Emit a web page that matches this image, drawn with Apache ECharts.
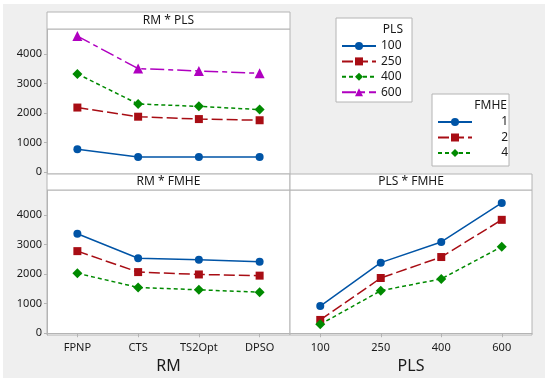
<!DOCTYPE html>
<html>
<head>
<meta charset="utf-8">
<script src="https://cdn.jsdelivr.net/npm/echarts@6/dist/echarts.min.js"></script>
<style>html,body{margin:0;padding:0;background:#fff}#c{width:550px;height:381px}</style>
</head>
<body>
<div id="c"></div>
<script>
// ---- data ----
const rmCats = ['FPNP', 'CTS', 'TS2Opt', 'DPSO'];
const plsCats = ['100', '250', '400', '600'];
const yTicks = [0, 1000, 2000, 3000, 4000];

// RM * PLS
const rmPls100 = [780, 515, 515, 515];
const rmPls250 = [2190, 1880, 1800, 1760];
const rmPls400 = [3330, 2310, 2230, 2120];
const rmPls600 = [4610, 3510, 3430, 3350];

// RM * FMHE
const rmFmhe1 = [3370, 2540, 2490, 2420];
const rmFmhe2 = [2780, 2070, 1990, 1950];
const rmFmhe4 = [2030, 1550, 1470, 1390];

// PLS * FMHE
const plsFmhe1 = [920, 2390, 3090, 4410];
const plsFmhe2 = [450, 1870, 2580, 3840];
const plsFmhe4 = [300, 1440, 1840, 2930];

// ---- styles ----
const FONT = 'Noto Sans';
const BORDER = '#b4b4b4';
const C_BLUE = '#0054a6', C_RED = '#a80d14', C_GREEN = '#008a00', C_PURPLE = '#b000c0';
const sty = {
  blue:   {color: C_BLUE,   symbol: 'circle',   symbolSize: 8,  type: 'solid'},
  red:    {color: C_RED,    symbol: 'rect',     symbolSize: 8,  type: [11, 4]},
  green:  {color: C_GREEN,  symbol: 'diamond',  symbolSize: 10, type: [4, 3]},
  purple: {color: C_PURPLE, symbol: 'triangle', symbolSize: 10, type: [14, 4, 5, 4]}
};
function mk(name, data, s, gi) {
  return {
    name: name, type: 'line', data: data, xAxisIndex: gi, yAxisIndex: gi,
    symbol: s.symbol, symbolSize: s.symbolSize,
    itemStyle: {color: s.color},
    lineStyle: {color: s.color, width: 1.5, type: s.type},
    emphasis: {disabled: true}, animation: false
  };
}
const gridBox = {show: true, backgroundColor: '#fff', borderColor: BORDER, borderWidth: 1};
const labelStyle = {fontFamily: FONT, fontSize: 11, color: '#1a1a1a'};
function yAx(gi, showLabels) {
  return {
    type: 'value', gridIndex: gi, min: -60, max: 4850,
    splitLine: {show: false},
    axisLine: {show: showLabels, lineStyle: {color: BORDER}},
    axisTick: {show: showLabels, length: 3, customValues: yTicks, lineStyle: {color: BORDER}},
    axisLabel: Object.assign({show: showLabels, margin: 5, customValues: yTicks,
      formatter: function (v) { return String(v); }}, labelStyle)
  };
}
function xAx(gi, cats, showLabels, name) {
  return {
    type: 'category', gridIndex: gi, data: cats, boundaryGap: true,
    axisLine: {show: showLabels, lineStyle: {color: BORDER}},
    axisTick: {show: showLabels, alignWithLabel: true, length: 4, lineStyle: {color: BORDER}},
    axisLabel: Object.assign({show: showLabels, margin: 7}, labelStyle),
    name: name || '', nameLocation: 'middle', nameGap: 23,
    nameTextStyle: {fontFamily: FONT, fontSize: 16, color: '#1a1a1a'}
  };
}
function strip(x, y, w, h, text) {
  return [
    {type: 'rect', shape: {x: x, y: y, width: w, height: h}, style: {fill: '#fff', stroke: BORDER, lineWidth: 1}, z: 1},
    {type: 'text', x: x + w / 2, y: y + h / 2, style: {text: text, fill: '#1a1a1a', font: '12px "' + FONT + '"', align: 'center', verticalAlign: 'middle'}, z: 2}
  ];
}
const graphics = [].concat(
  [{type: 'rect', shape: {x: 3, y: 4, width: 542, height: 374}, style: {fill: '#efefef'}, z: -10}],
  strip(47, 12, 243, 17, 'RM * PLS'),
  strip(47, 174, 243, 16, 'RM * FMHE'),
  strip(290, 174, 242, 16, 'PLS * FMHE'),
  [
    {type: 'rect', shape: {x: 336, y: 18, width: 76, height: 84}, style: {fill: '#fff', stroke: BORDER, lineWidth: 1}, z: 1},
    {type: 'text', x: 403, y: 30, style: {text: 'PLS', fill: '#1a1a1a', font: '12px "' + FONT + '"', align: 'right', verticalAlign: 'middle'}, z: 2},
    {type: 'rect', shape: {x: 432, y: 94, width: 77, height: 72}, style: {fill: '#fff', stroke: BORDER, lineWidth: 1}, z: 1},
    {type: 'text', x: 507, y: 106, style: {text: 'FMHE', fill: '#1a1a1a', font: '12px "' + FONT + '"', align: 'right', verticalAlign: 'middle'}, z: 2}
  ]
);
const legendText = {fontFamily: FONT, fontSize: 12, color: '#1a1a1a', lineHeight: 12};
const option = {
  backgroundColor: '#fff',
  animation: false,
  grid: [
    Object.assign({left: 47, top: 29, width: 243, height: 145}, gridBox),
    Object.assign({left: 47, top: 190, width: 243, height: 145}, gridBox),
    Object.assign({left: 290, top: 190, width: 242, height: 145}, gridBox)
  ],
  xAxis: [xAx(0, rmCats, false), xAx(1, rmCats, true, 'RM'), xAx(2, plsCats, true, 'PLS')],
  yAxis: [yAx(0, true), yAx(1, true), yAx(2, false)],
  legend: [
    {data: ['100', '250', '400', '600'], orient: 'vertical', left: 341, top: 40, padding: 0,
     itemWidth: 34, itemHeight: 10, itemGap: 3.4,
     textStyle: legendText, selectedMode: false, z: 5},
    {data: ['1', '2', '4'], orient: 'vertical', left: 437, top: 116, padding: 0,
     itemWidth: 34, itemHeight: 10, itemGap: 3.5,
     formatter: '{r|{name}}',
     textStyle: Object.assign({rich: {r: {width: 31, align: 'right', fontFamily: FONT, fontSize: 12, color: '#1a1a1a', lineHeight: 12}}}, legendText),
     selectedMode: false, z: 5}
  ],
  graphic: graphics,
  series: [
    mk('100', rmPls100, sty.blue, 0),
    mk('250', rmPls250, sty.red, 0),
    mk('400', rmPls400, sty.green, 0),
    mk('600', rmPls600, sty.purple, 0),
    mk('1', rmFmhe1, sty.blue, 1),
    mk('2', rmFmhe2, sty.red, 1),
    mk('4', rmFmhe4, sty.green, 1),
    mk('1', plsFmhe1, sty.blue, 2),
    mk('2', plsFmhe2, sty.red, 2),
    mk('4', plsFmhe4, sty.green, 2)
  ]
};
const chart = echarts.init(document.getElementById('c'), null, {renderer: 'canvas'});
chart.setOption(option);
</script>
</body>
</html>
